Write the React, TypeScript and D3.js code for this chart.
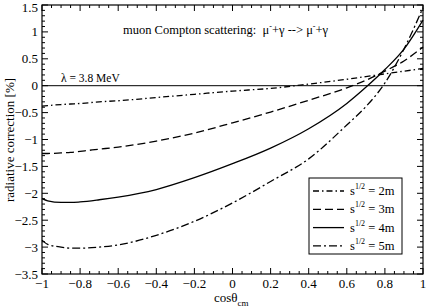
import React from "react";
import * as d3 from "d3";

// curve data: cos(theta_cm) -> radiative correction [%]
const cosTheta = [-1, -0.97, -0.9, -0.85, -0.8, -0.7, -0.6, -0.4, -0.2, 0, 0.2, 0.4, 0.6, 0.7, 0.8, 0.9, 1];
const s2m = [-0.38, -0.37, -0.35, -0.34, -0.33, -0.3, -0.28, -0.22, -0.16, -0.1, -0.05, 0.03, 0.12, 0.17, 0.22, 0.27, 0.32];
const s3m = [-1.26, -1.26, -1.25, -1.24, -1.22, -1.18, -1.14, -1.03, -0.88, -0.69, -0.49, -0.27, -0.04, 0.1, 0.27, 0.46, 0.72];
const s4m = [-2.1, -2.14, -2.17, -2.17, -2.16, -2.12, -2.07, -1.93, -1.71, -1.45, -1.16, -0.8, -0.33, -0.03, 0.3, 0.68, 1.22];
const s5m = [-2.87, -2.95, -3.0, -3.02, -3.02, -3.0, -2.96, -2.78, -2.52, -2.18, -1.78, -1.36, -0.73, -0.39, 0.05, 0.68, 1.45];

const seriesLabels = ["2m", "3m", "4m", "5m"];
const seriesValues = [s2m, s3m, s4m, s5m];
const dashes = ["6,3,1.5,3", "8,4", "", "8,3,2,3"];

const xTicks = [-1, -0.8, -0.6, -0.4, -0.2, 0, 0.2, 0.4, 0.6, 0.8, 1];
const yTicks = [-3.5, -3, -2.5, -2, -1.5, -1, -0.5, 0, 0.5, 1, 1.5];

const font = "'Liberation Serif', 'DejaVu Serif', serif";

export default function App() {
  const left = 42, right = 423, top = 5, bottom = 274;
  const x = d3.scaleLinear().domain([-1, 1]).range([left, right]);
  const y = d3.scaleLinear().domain([-3.5, 1.5]).range([bottom, top]);

  const line = d3.line<number>()
    .x((_, i) => x(cosTheta[i]))
    .y(d => y(d))
    .curve(d3.curveMonotoneX);

  // minor ticks
  const xMinor = d3.range(-1, 1.0001, 0.05);
  const yMinor = d3.range(-3.5, 1.5001, 0.1);

  // legend placement
  const lg = { x: 309, y: 178, w: 93, h: 76 };

  return (
    <svg width={428} height={308} style={{ position: "absolute", left: 0, top: 0, background: "#fff", fontFamily: font }}>
      <rect x={0} y={0} width={428} height={308} fill="#fff" />

      {/* zero line */}
      <line x1={left} x2={right} y1={y(0)} y2={y(0)} stroke="#000" strokeWidth={1} />

      {/* curves */}
      {seriesValues.map((vals, i) => (
        <path key={i} d={line(vals) || ""} fill="none" stroke="#000" strokeWidth={1.3}
          strokeDasharray={dashes[i] || undefined} />
      ))}

      {/* frame */}
      <rect x={left} y={top} width={right - left} height={bottom - top} fill="none" stroke="#000" strokeWidth={1.2} />

      {/* x ticks */}
      {xMinor.map((v, i) => {
        const major = Math.abs(v * 5 - Math.round(v * 5)) < 1e-6;
        const len = major ? 6 : 3;
        return (
          <g key={"xm" + i}>
            <line x1={x(v)} x2={x(v)} y1={bottom} y2={bottom - len} stroke="#000" />
            <line x1={x(v)} x2={x(v)} y1={top} y2={top + len} stroke="#000" />
          </g>
        );
      })}
      {/* y ticks */}
      {yMinor.map((v, i) => {
        const major = Math.abs(v * 2 - Math.round(v * 2)) < 1e-6;
        const len = major ? 6 : 3;
        return (
          <g key={"ym" + i}>
            <line x1={left} x2={left + len} y1={y(v)} y2={y(v)} stroke="#000" />
            <line x1={right} x2={right - len} y1={y(v)} y2={y(v)} stroke="#000" />
          </g>
        );
      })}

      {/* tick labels */}
      {xTicks.map(v => (
        <text key={"xl" + v} x={x(v)} y={288} fontSize={13} textAnchor="middle">{d3.format("")(v)}</text>
      ))}
      {yTicks.map(v => (
        <text key={"yl" + v} x={38} y={Math.max(y(v) + 4.5, 11.5)} fontSize={13} textAnchor="end">{d3.format("")(v)}</text>
      ))}

      {/* axis titles */}
      <text x={214} y={302} fontSize={13}>cosθ<tspan fontSize={9} dy={4}>cm</tspan></text>
      <text transform={`translate(14,140) rotate(-90)`} fontSize={13} textAnchor="middle">radiative correction [%]</text>

      {/* annotations */}
      <text x={123} y={34} fontSize={12.5}>
        muon Compton scattering:{"\u00a0\u00a0"}μ<tspan fontSize={8} dy={-5}>-</tspan>
        <tspan dy={5}>+γ --&gt; μ</tspan><tspan fontSize={8} dy={-5}>-</tspan><tspan dy={5}>+γ</tspan>
      </text>
      <text x={61} y={82} fontSize={11.5}>λ = 3.8 MeV</text>

      {/* legend */}
      <rect x={lg.x} y={lg.y} width={lg.w} height={lg.h} fill="#fff" stroke="#000" strokeWidth={1} />
      {seriesLabels.map((lab, i) => {
        const cy = lg.y + 13 + i * 18.3;
        return (
          <g key={"lg" + lab}>
            <line x1={lg.x + 4} x2={lg.x + 35} y1={cy} y2={cy} stroke="#000" strokeWidth={1.3}
              strokeDasharray={dashes[i] || undefined} />
            <text x={lg.x + 41} y={cy + 4} fontSize={12.5}>
              s<tspan fontSize={8} dy={-6}>1/2</tspan><tspan dy={6}> = {lab}</tspan>
            </text>
          </g>
        );
      })}
    </svg>
  );
}
